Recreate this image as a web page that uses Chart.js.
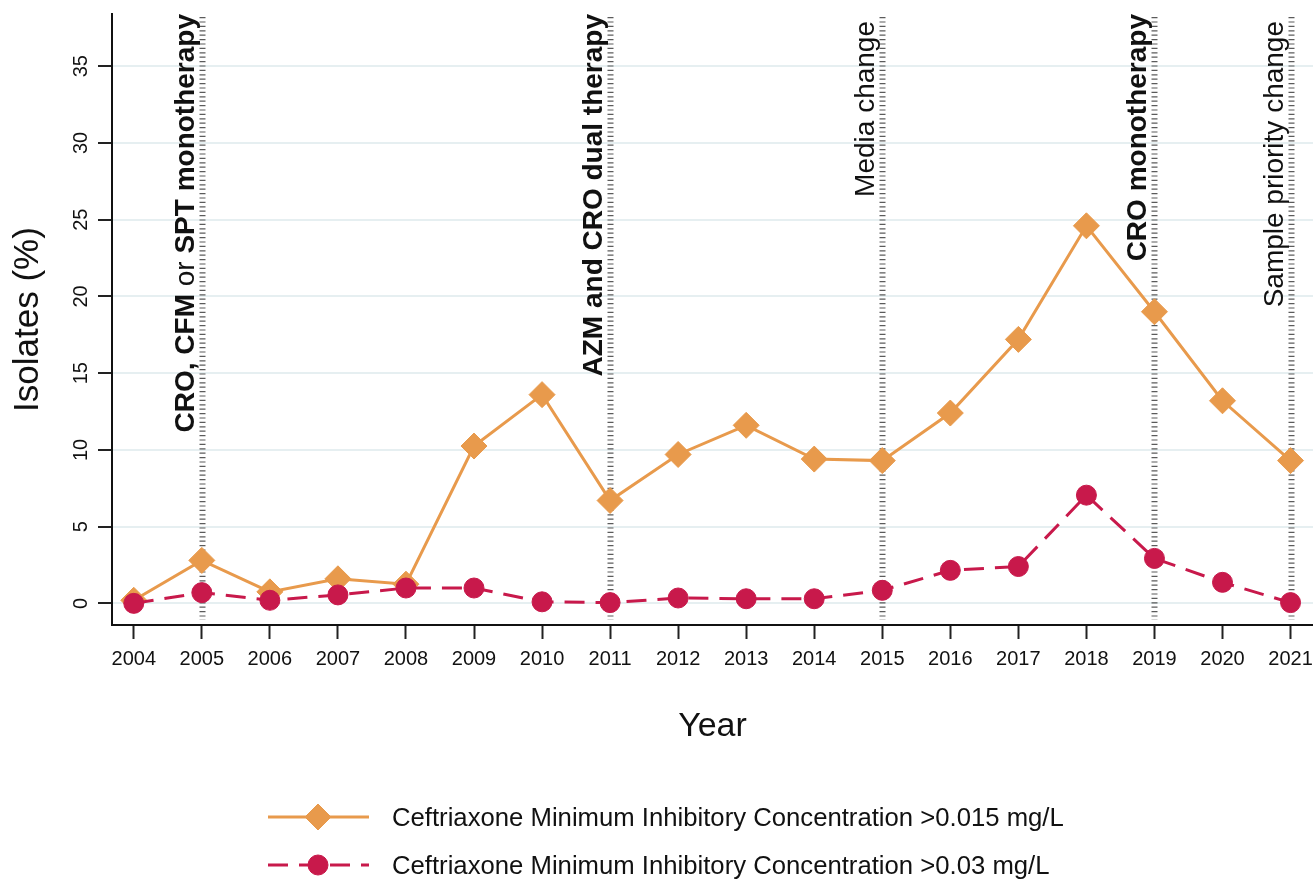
<!DOCTYPE html>
<html>
<head>
<meta charset="utf-8">
<script src="https://cdn.jsdelivr.net/npm/chart.js@4/dist/chart.umd.min.js"></script>
<style>
  html, body { margin: 0; padding: 0; background: #ffffff; }
  #wrap { width: 1313px; height: 881px; position: relative; }
</style>
</head>
<body>
<div id="wrap"><canvas id="c" width="1313" height="881"></canvas></div>
<script>
// Survey years and percentage of isolates above each ceftriaxone MIC threshold
const years = [2004, 2005, 2006, 2007, 2008, 2009, 2010, 2011, 2012, 2013, 2014, 2015, 2016, 2017, 2018, 2019, 2020, 2021];
const mic015 = [0.2, 2.8, 0.75, 1.6, 1.25, 10.25, 13.6, 6.7, 9.7, 11.6, 9.4, 9.3, 12.4, 17.2, 24.6, 19.0, 13.2, 9.3];
const mic03 = [0.0, 0.7, 0.2, 0.55, 1.0, 1.0, 0.1, 0.05, 0.35, 0.3, 0.3, 0.85, 2.15, 2.4, 7.05, 2.93, 1.37, 0.05];
const yTicks = [0, 5, 10, 15, 20, 25, 30, 35];

// Treatment-guideline and laboratory events marked by vertical lines
const eventYears = [2005, 2011, 2015, 2019, 2021];
const eventLabels = [
  [['CRO, CFM', true], [' or ', false], ['SPT monotherapy', true]],
  [['AZM and CRO dual therapy', true]],
  [['Media change', false]],
  [['CRO monotherapy', true]],
  [['Sample priority change', false]]
];

const seriesNames = [
  'Ceftriaxone Minimum Inhibitory Concentration >0.015 mg/L',
  'Ceftriaxone Minimum Inhibitory Concentration >0.03 mg/L'
];

const ORANGE = '#e89a4c';
const RED = '#c8194b';
const FONT = '"Liberation Sans", Arial, Helvetica, sans-serif';

const toPoints = (vals) => vals.map((v, i) => ({ x: years[i], y: v }));

// Vertical event lines and their rotated captions, drawn beneath the series
const eventPlugin = {
  id: 'events',
  beforeDatasetsDraw(chart) {
    const ctx = chart.ctx;
    const xs = chart.scales.x;
    const area = chart.chartArea;
    ctx.save();
    eventYears.forEach((yr, k) => {
      const px = Math.round(xs.getPixelForValue(yr)) + 0.5;
      ctx.save();
      ctx.strokeStyle = 'rgba(50,50,50,0.8)';
      ctx.lineWidth = 6;
      ctx.setLineDash([1.2, 3.2]);
      ctx.beginPath();
      ctx.moveTo(px, area.top + 3);
      ctx.lineTo(px, area.bottom - 5);
      ctx.stroke();
      ctx.restore();

      // caption: rotated to read bottom-to-top, ending near the top of the plot
      const parts = eventLabels[k];
      const allNormal = parts.every(p => !p[1]);
      const endY = allNormal ? area.top + 7 : area.top;
      const baseX = px - 9;
      ctx.save();
      ctx.translate(baseX, endY);
      ctx.rotate(-Math.PI / 2);
      ctx.fillStyle = '#111';
      ctx.textBaseline = 'alphabetic';
      ctx.textAlign = 'left';
      const fonts = parts.map(p => (p[1] ? 'bold ' : '') + '28px ' + FONT);
      let total = 0;
      const widths = parts.map((p, i) => { ctx.font = fonts[i]; const w = ctx.measureText(p[0]).width; total += w; return w; });
      let cx = -total;
      parts.forEach((p, i) => {
        ctx.font = fonts[i];
        ctx.fillText(p[0], cx, 0);
        cx += widths[i];
      });
      ctx.restore();
    });
    ctx.restore();
  }
};

// Axis titles and the legend below the plot
const decorPlugin = {
  id: 'decor',
  afterDraw(chart) {
    const ctx = chart.ctx;
    const area = chart.chartArea;
    ctx.save();
    ctx.fillStyle = '#111';
    ctx.font = '34px ' + FONT;
    ctx.textAlign = 'center';
    ctx.textBaseline = 'alphabetic';
    ctx.fillText('Year', (area.left + area.right) / 2, 736);

    ctx.save();
    ctx.translate(38, (area.top + area.bottom) / 2);
    ctx.rotate(-Math.PI / 2);
    ctx.font = '35px ' + FONT;
    ctx.fillText('Isolates (%)', 0, 0);
    ctx.restore();

    // legend rows
    const rows = [
      { y: 817, color: ORANGE, dash: [], style: 'rectRot', radius: 13, name: seriesNames[0] },
      { y: 865, color: RED, dash: [20, 11], style: 'circle', radius: 10, name: seriesNames[1] }
    ];
    rows.forEach(r => {
      ctx.save();
      ctx.strokeStyle = r.color;
      ctx.lineWidth = 3;
      ctx.setLineDash(r.dash);
      ctx.beginPath();
      ctx.moveTo(268, r.y);
      ctx.lineTo(369, r.y);
      ctx.stroke();
      ctx.restore();
      ctx.save();
      ctx.fillStyle = r.color;
      ctx.strokeStyle = r.color;
      ctx.lineWidth = 1;
      Chart.helpers.drawPoint(ctx, { pointStyle: r.style, radius: r.radius, borderWidth: 1, rotation: 0 }, 318, r.y);
      ctx.restore();
      ctx.fillStyle = '#111';
      ctx.font = '25.7px ' + FONT;
      ctx.textAlign = 'left';
      ctx.textBaseline = 'middle';
      ctx.fillText(r.name, 392, r.y + 2);
    });
    ctx.restore();
  }
};

new Chart(document.getElementById('c'), {
  type: 'line',
  data: {
    datasets: [
      {
        label: seriesNames[1],
        data: toPoints(mic03),
        borderColor: RED,
        backgroundColor: RED,
        borderWidth: 3,
        borderDash: [20, 11],
        pointStyle: 'circle',
        pointRadius: 10,
        pointBorderWidth: 1,
        pointBackgroundColor: RED,
        pointBorderColor: RED,
        tension: 0,
        order: 0
      },
      {
        label: seriesNames[0],
        data: toPoints(mic015),
        borderColor: ORANGE,
        backgroundColor: ORANGE,
        borderWidth: 3,
        pointStyle: 'rectRot',
        pointRadius: 13,
        pointBorderWidth: 1,
        pointBackgroundColor: ORANGE,
        pointBorderColor: ORANGE,
        tension: 0,
        order: 1
      }
    ]
  },
  options: {
    responsive: false,
    animation: false,
    devicePixelRatio: 1,
    layout: { autoPadding: false, padding: { top: 14, left: 0, right: 0, bottom: 0 } },
    plugins: {
      legend: { display: false },
      tooltip: { enabled: false }
    },
    scales: {
      x: {
        type: 'linear',
        min: 2003.68,
        max: 2021.33,
        afterBuildTicks(s) { s.ticks = years.map(v => ({ value: v })); },
        afterFit(s) { s.height = 256; s.paddingLeft = 0; s.paddingRight = 0; },
        ticks: {
          autoSkip: false,
          maxRotation: 0,
          minRotation: 0,
          padding: 8,
          color: '#111',
          font: { family: FONT, size: 20 },
          callback: (v) => String(v)
        },
        grid: { drawOnChartArea: false, tickLength: 14, tickWidth: 2, tickColor: '#222' },
        border: { color: '#111', width: 2 }
      },
      y: {
        min: -1.41,
        max: 38.4,
        afterBuildTicks(s) { s.ticks = yTicks.map(v => ({ value: v })); },
        afterFit(s) { s.width = 112; s.paddingTop = 0; s.paddingBottom = 0; },
        ticks: {
          minRotation: 90,
          maxRotation: 90,
          crossAlign: 'center',
          padding: 5,
          color: '#111',
          font: { family: FONT, size: 20 }
        },
        grid: { color: '#e6eff1', lineWidth: 2, tickLength: 14, tickWidth: 2, tickColor: '#222' },
        border: { color: '#111', width: 2 }
      }
    }
  },
  plugins: [eventPlugin, decorPlugin]
});
</script>
</body>
</html>
